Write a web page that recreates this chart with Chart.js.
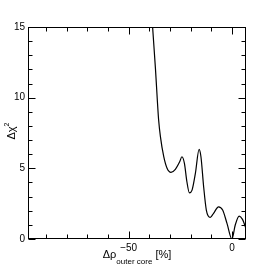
<!DOCTYPE html>
<html>
<head>
<meta charset="utf-8">
<script src="https://cdn.jsdelivr.net/npm/chart.js@4/dist/chart.umd.min.js"></script>
<style>
  html, body { margin: 0; padding: 0; background: #fff; }
  canvas { display: block; }
</style>
</head>
<body>
<canvas id="chart" width="273" height="266"></canvas>
<script>
// delta rho outer core [%] and delta chi^2
const drho = [-38.8, -38.4, -37.0, -35.5, -34.6, -33.0, -31.4, -29.5, -27.4, -25.3,
              -24.2, -23.0, -21.8, -20.6, -19.3, -17.7, -15.9, -15.0, -13.7, -12.4,
              -10.5, -8.9, -6.5, -4.5, -2.4, 0.0, 1.6, 3.5, 5.1, 6.8];
const dchi2 = [15.9, 15.0, 12.0, 8.46, 7.23, 5.82, 5.0, 4.71, 4.93, 5.46,
               5.82, 5.35, 4.05, 3.27, 3.46, 4.64, 6.34, 5.82, 3.70, 2.05,
               1.53, 1.82, 2.28, 2.05, 1.11, 0.0, 0.99, 1.62, 1.39, 0.75];

const xRange = [-98.7, 6.8];
const yRange = [0, 15];
const xMajorTicks = [-50, 0];
const xMinorTicks = [-90, -80, -70, -60, -40, -30, -20, -10];
const yMajorTicks = [0, 5, 10, 15];
const yMinorTicks = [1, 2, 3, 4, 6, 7, 8, 9, 11, 12, 13, 14];

const FONT = 'Liberation Sans, Arial, Helvetica, sans-serif';

// ROOT style frame: box with inward ticks on all four sides, plus axis titles
const frameTicks = {
  id: 'frameTicks',
  afterDraw(chart) {
    const { ctx, chartArea: a } = chart;
    const x = chart.scales.x, y = chart.scales.y;
    ctx.save();
    ctx.strokeStyle = '#000';
    ctx.lineWidth = 1;
    const L = Math.round(a.left) + 0.5, R = Math.round(a.right) - 0.5;
    const T = Math.round(a.top) + 0.5, B = Math.round(a.bottom) - 0.5;
    ctx.strokeRect(L, T, R - L, B - T);

    ctx.beginPath();
    const xt = (v, len) => {
      const px = Math.round(x.getPixelForValue(v)) + 0.5;
      ctx.moveTo(px, B); ctx.lineTo(px, B - len);
      ctx.moveTo(px, T); ctx.lineTo(px, T + len);
    };
    const yt = (v, len) => {
      const py = Math.round(y.getPixelForValue(v)) + 0.5;
      ctx.moveTo(L, py); ctx.lineTo(L + len, py);
      ctx.moveTo(R, py); ctx.lineTo(R - len, py);
    };
    xMajorTicks.forEach(v => xt(v, 7));
    xMinorTicks.forEach(v => xt(v, 4));
    yMajorTicks.forEach(v => yt(v, 7));
    yMinorTicks.forEach(v => yt(v, 4));
    ctx.stroke();

    // y title: Δχ² rotated
    ctx.fillStyle = '#000';
    ctx.save();
    ctx.translate(15, 131);
    ctx.rotate(-Math.PI / 2);
    ctx.font = '11px ' + FONT;
    ctx.textBaseline = 'alphabetic';
    const w1 = ctx.measureText('Δχ').width;
    ctx.font = '7px ' + FONT;
    const w2 = ctx.measureText('2').width;
    const start = -(w1 + w2) / 2;
    ctx.font = '11px ' + FONT;
    ctx.fillText('Δχ', start, 0);
    ctx.font = '7px ' + FONT;
    ctx.fillText('2', start + w1, -6);
    ctx.restore();

    // x title: Δρ_outer core [%]
    ctx.textBaseline = 'alphabetic';
    ctx.font = '11px ' + FONT;
    const a1 = ctx.measureText('Δρ').width;
    const a3 = ctx.measureText(' [%]').width;
    ctx.font = '8px ' + FONT;
    const a2 = ctx.measureText('outer core').width;
    let sx = (a.left + a.right) / 2 - (a1 + a2 + a3) / 2;
    ctx.font = '11px ' + FONT;
    ctx.fillText('Δρ', sx, 258);
    ctx.font = '8px ' + FONT;
    ctx.fillText('outer core', sx + a1, 263.5);
    ctx.font = '11px ' + FONT;
    ctx.fillText(' [%]', sx + a1 + a2, 258);
    ctx.restore();
  }
};

new Chart(document.getElementById('chart'), {
  type: 'line',
  data: {
    datasets: [{
      data: drho.map((v, i) => ({ x: v, y: dchi2[i] })),
      borderColor: '#000',
      borderWidth: 1.2,
      pointRadius: 0,
      fill: false,
      cubicInterpolationMode: 'monotone'
    }]
  },
  options: {
    responsive: false,
    animation: false,
    devicePixelRatio: 1,
    layout: { padding: { left: 0, right: 27, top: 27, bottom: 0 } },
    plugins: { legend: { display: false }, tooltip: { enabled: false } },
    scales: {
      x: {
        type: 'linear',
        min: xRange[0],
        max: xRange[1],
        grid: { display: false, drawTicks: false },
        border: { display: false },
        afterBuildTicks: s => { s.ticks = xMajorTicks.map(v => ({ value: v })); },
        afterFit: s => { s.height = 27; },
        ticks: {
          padding: 3,
          color: '#000',
          font: { family: FONT, size: 10 },
          maxRotation: 0,
          callback: v => String(v).replace('-', '\u2212')
        }
      },
      y: {
        type: 'linear',
        min: yRange[0],
        max: yRange[1],
        grid: { display: false, drawTicks: false },
        border: { display: false },
        afterBuildTicks: s => { s.ticks = yMajorTicks.map(v => ({ value: v })); },
        afterFit: s => { s.width = 28; },
        ticks: {
          padding: 3,
          color: '#000',
          font: { family: FONT, size: 10 }
        }
      }
    }
  },
  plugins: [frameTicks]
});
</script>
</body>
</html>
